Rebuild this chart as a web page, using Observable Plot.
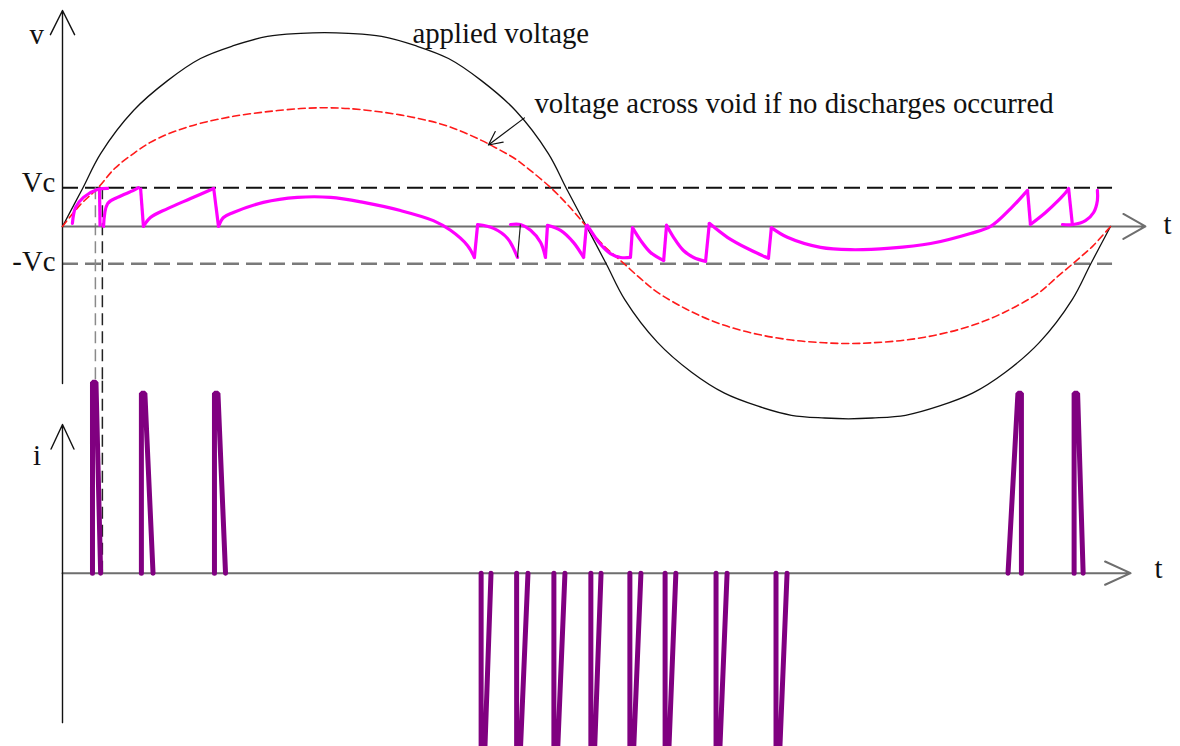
<!DOCTYPE html>
<html>
<head>
<meta charset="utf-8">
<script src="https://cdn.jsdelivr.net/npm/d3@7"></script>
<script src="https://cdn.jsdelivr.net/npm/@observablehq/plot@0.6"></script>
<style>
html, body { margin: 0; padding: 0; background: #fff; }
#wrap { position: relative; width: 1180px; height: 746px; overflow: hidden; background: #fff; }
#wrap svg { position: absolute; left: 0; top: 0; }
</style>
</head>
<body>
<div id="wrap"></div>
<script>
// ---------- data (phase in degrees, voltage in units of Vc, current in peak units) ----------
const appliedT = [0, 6.9, 13.1, 24.4, 36.1, 47.4, 58.7, 70.4, 81.8, 90, 98.2, 109.6, 121.3, 132.6, 143.9, 155.6, 166.9, 173.1, 180, 186.9, 193.1, 204.4, 216.1, 227.4, 238.7, 250.4, 261.8, 270, 278.2, 289.6, 301.3, 312.6, 323.9, 335.6, 346.9, 353.1, 360];
const appliedV = [0, 0.98, 1.88, 2.99, 3.76, 4.33, 4.66, 4.90, 4.98, 5.0, 4.98, 4.90, 4.66, 4.33, 3.76, 2.99, 1.88, 0.98, 0, -0.98, -1.88, -2.99, -3.76, -4.3, -4.63, -4.87, -4.94, -4.96, -4.94, -4.87, -4.63, -4.3, -3.76, -2.99, -1.88, -0.98, 0];

const voidT = [0, 6, 12, 18, 24.4, 30, 36.1, 42, 47.4, 58.7, 70.4, 81.8, 90, 98.2, 109.6, 121.3, 132.6, 143.9, 150, 155.6, 160.8, 168, 174, 180, 186, 192, 198.5, 204.4, 216.1, 227.4, 238.7, 250.4, 261.8, 270, 278.2, 289.6, 301.3, 312.6, 323.9, 335.6, 341.1, 348, 354, 360];
const voidV = [0, 0.55, 0.98, 1.5, 1.88, 2.16, 2.38, 2.54, 2.66, 2.84, 2.96, 3.04, 3.06, 3.04, 2.95, 2.8, 2.58, 2.22, 1.98, 1.74, 1.44, 0.98, 0.52, 0, -0.5, -0.9, -1.34, -1.7, -2.2, -2.55, -2.78, -2.93, -3.0, -3.02, -3.0, -2.93, -2.78, -2.55, -2.2, -1.7, -1.34, -0.9, -0.5, 0];

// actual void voltage: smooth arcs between discharges [t, v]
const dischargeArcs = [
  [[3.4, 0.08], [4.5, 0.49], [7.2, 0.75], [12.0, 0.95], [15.5, 0.98]],
  [[14.1, 0], [15.5, 0.59], [18.9, 0.75], [24.4, 0.93], [26.1, 1.0]],
  [[27.8, 0], [30.2, 0.23], [36.1, 0.46], [44.0, 0.72], [51.9, 0.98]],
  [[53.6, 0], [55.3, 0.23], [58.7, 0.36], [69.0, 0.62], [80.7, 0.75], [92.1, 0.75], [103.4, 0.62], [116.1, 0.41], [127.4, 0.15], [133.3, -0.1], [139.1, -0.49], [141.5, -0.8]],
  [[142.6, 0.05], [148.1, -0.05], [152.9, -0.31], [156.3, -0.8]],
  [[153.9, 0.05], [157.3, 0.05], [160.8, -0.1], [164.2, -0.41], [165.9, -0.8]],
  [[166.6, 0.03], [171.1, -0.1], [175.5, -0.41], [179.0, -0.8]],
  [[180.3, 0.03], [184.8, -0.46], [188.2, -0.7], [191.7, -0.8], [195.1, -0.8]],
  [[195.8, -0.03], [198.6, -0.36], [202.0, -0.67], [206.5, -0.88]],
  [[207.5, 0.03], [209.9, -0.28], [213.3, -0.62], [216.8, -0.8], [220.9, -0.9]],
  [[222.2, 0.08], [228.4, -0.28], [235.3, -0.57], [242.5, -0.82]],
  [[243.5, -0.03], [249.0, -0.28], [260.4, -0.54], [270.7, -0.6], [284.4, -0.56], [298.2, -0.44], [311.9, -0.18], [318.8, 0], [325.7, 0.46], [331.5, 0.93]],
  [[332.5, 0.05], [337.7, 0.36], [342.1, 0.67], [344.9, 0.9], [345.6, 0.98]],
  [[343.5, 0.05], [347.3, 0.05], [351.4, 0.15], [354.2, 0.36], [355.5, 0.67], [355.5, 0.93]]
];
// collapses at each discharge [t from, v from, t to, v to]
const dischargeDrops = [
  [12.7, 1.0, 12.9, 0], [26.8, 1.0, 27.8, 0], [51.9, 1.0, 53.6, 0],
  [141.5, -0.8, 142.6, 0.05], [165.9, -0.8, 166.6, 0.03], [179.0, -0.8, 180.0, 0.05],
  [195.1, -0.8, 195.8, -0.03], [206.5, -0.88, 207.5, 0.03], [220.9, -0.9, 222.2, 0.08],
  [242.5, -0.82, 243.5, -0.03], [331.5, 0.93, 332.5, 0.05], [345.6, 0.98, 346.9, 0.05]
];
const thinDrop = [[156.3, -0.8, 157.3, 0.05]];

const vcLevel = 1.0;
const minusVcLevel = -0.96;
const breakdownMarks = [11.3, 13.7];   // dashed projections of the first discharge

// current pulses
const pulseStart = [10.3, 27.1, 52.2, 143.8, 156.0, 168.8, 181.5, 194.9, 207.0, 224.5, 245.1, 324.8, 347.5];
const pulseEnd   = [13.1, 31.1, 56.0, 147.2, 159.9, 172.6, 185.0, 198.7, 210.7, 228.3, 248.9, 329.4, 350.6];
const pulsePeak  = [1.04, 0.98, 0.98, -1, -1, -1, -1, -1, -1, -1, -1, 0.98, 0.98];
const pulseSteep = ["start", "start", "start", "start", "start", "start", "start", "start", "start", "start", "start", "end", "start"];

// labels
const labelText = ["v", "Vc", "-Vc", "t", "applied voltage", "voltage across void if no discharges occurred"];
const labelT    = [-8.9, -2.5, -2.4, 379.6, 120.2, 162.1];
const labelV    = [4.93, 1.12, -0.9, 0.03, 4.96, 3.16];
const labelAnchor = ["middle", "end", "end", "middle", "start", "start"];
const lowerText = ["i", "t"];
const lowerT = [-8.8, 376.5];
const lowerI = [0.64, 0.025];

// annotation arrow [t1, v1, t2, v2]
const noteArrow = [[158.7, 2.8, 146.3, 2.1]];

// ---------- tables ----------
const applied = appliedT.map((t, k) => ({t, v: appliedV[k]}));
const voidCurve = voidT.map((t, k) => ({t, v: voidV[k]}));
const arcs = dischargeArcs.flatMap((seg, s) => seg.map(([t, v]) => ({t, v, s})));
const drops = dischargeDrops.map(([t1, v1, t2, v2]) => ({t1, v1, t2, v2}));
const thin = thinDrop.map(([t1, v1, t2, v2]) => ({t1, v1, t2, v2}));
const cap = 1.2;
const pulses = pulseStart.flatMap((t0, k) => {
  const t1 = pulseEnd[k], p = pulsePeak[k];
  const pts = pulseSteep[k] === "start"
    ? [[t0, 0], [t0, p], [t0 + cap, p], [t1, 0]]
    : [[t0, 0], [t1 - cap, p], [t1, p], [t1, 0]];
  return pts.map(([t, i]) => ({t, i, k}));
});
const labels = labelText.map((s, k) => ({s, t: labelT[k], v: labelV[k], a: labelAnchor[k]}));
const lowerLabels = lowerText.map((s, k) => ({s, t: lowerT[k], i: lowerI[k]}));
const notes = noteArrow.map(([t1, v1, t2, v2]) => ({t1, v1, t2, v2}));

const serif = "'Liberation Serif', 'Times New Roman', Times, serif";
const fs = 28.8;
const vAxisBottom = -4.05, vAxisTop = 5.57, tAxisEnd = 372;
const textMarks = ["start", "middle", "end"].map(a =>
  Plot.text(labels.filter(d => d.a === a), {x: "t", y: "v", text: "s", textAnchor: a, fontSize: fs, fontFamily: serif, fill: "#111"}));

// ---------- upper panel: voltages ----------
const upper = Plot.plot({
  width: 1180, height: 746,
  marginLeft: 62, marginRight: 70, marginTop: 8, marginBottom: 363,
  x: {domain: [0, 360], axis: null},
  y: {domain: [vAxisBottom, 5.62], axis: null},
  style: {background: "white", overflow: "visible"},
  marks: [
    Plot.ruleY([vcLevel], {x1: 0, x2: 360.7, stroke: "#111", strokeWidth: 2, strokeDasharray: "16,7"}),
    Plot.ruleY([minusVcLevel], {x1: 0, x2: 360.7, stroke: "#7a7a7a", strokeWidth: 2.5, strokeDasharray: "16,7"}),
    Plot.ruleX([breakdownMarks[0]], {y1: vcLevel, y2: vAxisBottom, stroke: "#8a8a8a", strokeWidth: 1.5, strokeDasharray: "12,6"}),
    Plot.ruleX([breakdownMarks[1]], {y1: vcLevel, y2: vAxisBottom, stroke: "#222", strokeWidth: 1.5, strokeDasharray: "12,6"}),
    Plot.arrow([{}], {x1: 0, y1: 0, x2: tAxisEnd, y2: 0, stroke: "#6e6e6e", strokeWidth: 2, headLength: 19, headAngle: 59}),
    Plot.arrow([{}], {x1: 0, y1: vAxisBottom, x2: 0, y2: vAxisTop, stroke: "#111", strokeWidth: 1.4, headLength: 29, headAngle: 53}),
    Plot.line(applied, {x: "t", y: "v", curve: "catmull-rom", stroke: "#111", strokeWidth: 1.3}),
    Plot.line(voidCurve, {x: "t", y: "v", curve: "catmull-rom", stroke: "#ff1a1a", strokeWidth: 1.6, strokeDasharray: "7,4"}),
    Plot.line(arcs, {x: "t", y: "v", z: "s", curve: "catmull-rom", stroke: "#ff00ff", strokeWidth: 3.2}),
    Plot.link(drops, {x1: "t1", y1: "v1", x2: "t2", y2: "v2", stroke: "#ff00ff", strokeWidth: 3.2}),
    Plot.link(thin, {x1: "t1", y1: "v1", x2: "t2", y2: "v2", stroke: "#222", strokeWidth: 1.2}),
    Plot.arrow(notes, {x1: "t1", y1: "v1", x2: "t2", y2: "v2", stroke: "#111", strokeWidth: 1.2, headLength: 40, headAngle: 52}),
    ...textMarks
  ]
});

// ---------- lower panel: current pulses ----------
const lower = Plot.plot({
  width: 1180, height: 746,
  marginLeft: 62, marginRight: 70, marginTop: 380, marginBottom: 0,
  x: {domain: [0, 360], axis: null},
  y: {domain: [-0.945, 1.05], axis: null},
  style: {background: "transparent", overflow: "visible"},
  marks: [
    Plot.ruleX([breakdownMarks[1]], {y1: 0, y2: 1.05, stroke: "#222", strokeWidth: 1.5, strokeDasharray: "12,6"}),
    Plot.arrow([{}], {x1: 0, y1: 0, x2: 366.9, y2: 0, stroke: "#6e6e6e", strokeWidth: 2, headLength: 21, headAngle: 49}),
    Plot.arrow([{}], {x1: 0, y1: -0.815, x2: 0, y2: 0.81, stroke: "#111", strokeWidth: 1.4, headLength: 29, headAngle: 50}),
    Plot.line(pulses, {x: "t", y: "i", z: "k", stroke: "#800080", strokeWidth: 5, strokeLinejoin: "miter"}),
    Plot.text(lowerLabels, {x: "t", y: "i", text: "s", fontSize: fs, fontFamily: serif, fill: "#111"})
  ]
});

const wrap = document.getElementById("wrap");
wrap.appendChild(upper);
wrap.appendChild(lower);
</script>
</body>
</html>
